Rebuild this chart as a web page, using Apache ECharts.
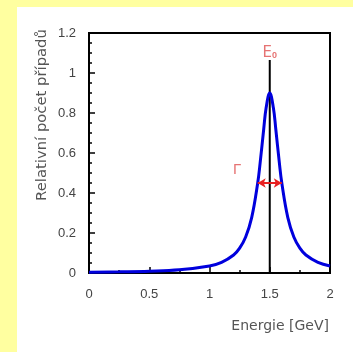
<!DOCTYPE html>
<html><head><meta charset="utf-8">
<script src="https://cdn.jsdelivr.net/npm/echarts@6/dist/echarts.min.js"></script>
<style>html,body{margin:0;padding:0;background:#FFFFA0;}#c{width:353px;height:352px;}</style>
</head><body><div id="c"></div>
<script>
const energy = [0, 0.25, 0.5, 0.75, 1.0, 1.1, 1.2, 1.25, 1.3, 1.35, 1.4, 1.42, 1.45, 1.47, 1.5, 1.53, 1.55, 1.58, 1.6, 1.65, 1.7, 1.75, 1.8, 1.9, 2.0];
const counts = [0.004, 0.006, 0.009, 0.016, 0.035, 0.053, 0.09, 0.124, 0.18, 0.277, 0.45, 0.549, 0.72, 0.826, 0.9, 0.826, 0.72, 0.549, 0.45, 0.277, 0.18, 0.124, 0.09, 0.053, 0.035];
const peakX = 1.5, peakLineTop = 1.065;
const gammaFrom = 1.4, gammaTo = 1.6, gammaY = 0.45;
const xTicks = [0, 0.5, 1, 1.5, 2];
const yTicks = [0, 0.2, 0.4, 0.6, 0.8, 1, 1.2];
const yTitle = 'Relativní počet případů';
const xTitle = 'Energie [GeV]';

const chart = echarts.init(document.getElementById('c'), null, {renderer:'canvas'});
const font = 'Liberation Sans';
const nameFont = 'DejaVu Sans';
chart.setOption({
  backgroundColor: '#FFFFA0',
  animation: false,
  graphic: [
    {type:'rect', shape:{x:17, y:7, width:340, height:350}, style:{fill:'#ffffff'}, z:-10},
    {type:'text', x:42, y:115, rotation: Math.PI/2, style:{text: yTitle, fontFamily: nameFont, fontSize: 14.8, fill:'#555', align:'center', verticalAlign:'middle'}},
    {type:'text', x:329, y:326, style:{text: xTitle, fontFamily: nameFont, fontSize: 14, fill:'#555', align:'right', verticalAlign:'middle'}}
  ],
  grid: {left: 89, right: 23, top: 33, bottom: 79, show: true, borderColor: '#000', borderWidth: 2, backgroundColor: '#fff'},
  xAxis: {
    type: 'value', min: 0, max: 2, interval: 0.5,
    axisLine: {show: true, lineStyle: {color: '#000', width: 2}},
    axisTick: {show: true, inside: true, length: 6, lineStyle: {color: '#000', width: 1.5}},
    minorTick: {show: true, splitNumber: 2, length: 3, lineStyle: {color: '#000', width: 1.5}},
    axisLabel: {fontFamily: font, fontSize: 13, color: '#444', margin: 15, formatter: v => xTicks.includes(v) ? String(v) : ''},
    splitLine: {show: false}
  },
  yAxis: {
    type: 'value', min: 0, max: 1.2, interval: 0.2,
    axisLine: {show: true, lineStyle: {color: '#000', width: 2}},
    axisTick: {show: true, inside: true, length: 6, lineStyle: {color: '#000', width: 1.5}},
    minorTick: {show: true, splitNumber: 4, length: 3, lineStyle: {color: '#000', width: 1.5}},
    axisLabel: {fontFamily: font, fontSize: 13, color: '#444', margin: 13, formatter: v => { const t = yTicks.find(k => Math.abs(k - v) < 1e-9); return t === undefined ? '' : String(t); }},
    splitLine: {show: false}
  },
  series: [
    {
      type: 'line', data: [[peakX, 0], [peakX, peakLineTop]], symbol: 'none',
      lineStyle: {color: '#000', width: 2}, z: 1,
      markLine: {
        silent: true, symbol: ['arrow', 'arrow'], symbolSize: [7, 8],
        lineStyle: {color: '#E82020', width: 2, type: 'solid'}, label: {show: false},
        data: [[{coord: [gammaFrom, gammaY]}, {coord: [gammaTo, gammaY]}]]
      }
    },
    {
      type: 'line', data: energy.map((e, i) => [e, counts[i]]), smooth: 0.4, symbol: 'none',
      lineStyle: {color: '#0000DD', width: 3}, z: 3
    },
    {
      type: 'scatter', symbolSize: 0, z: 4,
      data: [
        {value: [peakX, 1.1], label: {show: true, position: 'inside', formatter: '{e|E}{s|0}', rich: {e: {fontFamily: nameFont, fontSize: 15, color: '#E05050'}, s: {fontFamily: font, fontSize: 9, fontWeight: 'bold', color: '#E05050', verticalAlign: 'bottom', padding: [6, 0, 0, 0]}}}},
        {value: [1.23, 0.515], label: {show: true, position: 'inside', formatter: 'Γ', fontFamily: font, fontSize: 15, color: '#E05050'}}
      ]
    }
  ]
});
</script></body></html>
